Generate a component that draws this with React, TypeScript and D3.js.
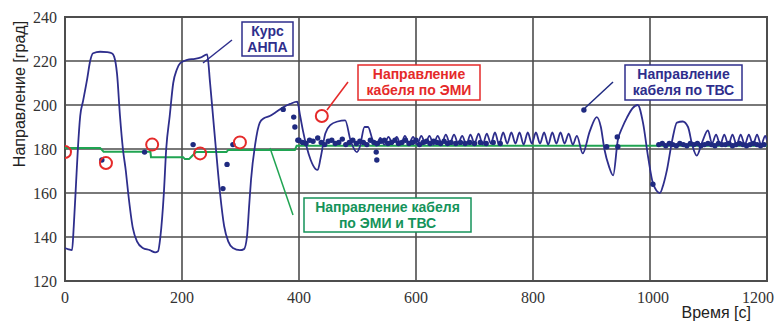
import React from 'react';
import * as d3 from 'd3';

// Курс АНПА (time s, heading deg)
const kursData: [number, number][] = [
  [0, 135], [5, 134.5], [12, 134], [15, 145], [19, 165], [22, 180], [26, 195], [31, 202], [38, 212],
  [43, 220], [48, 223.5], [60, 224.2], [72, 224], [80, 223.5], [84, 222], [89, 214], [94, 195],
  [99, 180], [104, 170], [108, 160], [116, 144], [123, 138], [133, 135], [145, 134], [154, 133],
  [159, 133.5], [163, 140], [169, 160], [173, 180], [179, 195], [185, 210], [191, 216], [197, 219],
  [209, 220.5], [222, 221], [231, 221.5], [243, 223], [248, 210], [253, 195], [258, 180], [265, 160],
  [272, 145], [279, 138], [287, 135], [299, 134], [306, 134.5], [311, 140], [315, 155], [318, 166],
  [325, 182], [333, 192], [340, 194], [350, 195], [362, 197], [373, 199], [385, 200.5], [397, 201.5],
  [402, 195], [407, 188], [413, 181], [420, 175], [428, 171], [432, 170.5], [437, 176], [445, 187],
  [454, 191], [466, 192.5], [479, 193], [488, 184], [499, 178.6], [504, 181], [512, 190], [518, 190],
  [526, 184], [532, 181.5], [539, 185], [546, 182], [553, 185.5], [560, 182.5], [567, 185.5], [574, 182],
  [581, 186], [588, 182.5], [595, 185.5], [602, 182], [609, 186], [616, 182.5], [623, 186],
  [630, 182], [637, 186], [644, 182.5], [651, 186.5], [658, 182.5], [665, 186.5], [672, 182.5],
  [679, 186], [686, 182], [693, 186.5], [700, 182.5], [707, 187], [714, 182], [721, 187], [728, 182.5],
  [735, 187.5], [742, 182], [749, 187.5], [756, 182.5], [763, 187.5], [770, 182.5], [777, 187.5],
  [784, 182], [791, 187.5], [798, 182.5], [805, 187.5], [812, 182.5], [819, 187.5], [826, 182],
  [833, 187.5], [840, 182.5], [847, 187.5], [854, 182.5], [861, 187], [868, 182], [875, 186],
  [885, 178], [897, 188], [909, 194.5], [916, 190], [922, 180], [930, 172], [937, 168], [945, 184],
  [953, 190], [961, 194.5], [970, 198.5], [979, 200], [988, 192], [997, 176], [1005, 164.5],
  [1017, 160], [1023, 164], [1029, 170.5], [1038, 184], [1046, 192], [1056, 192.5], [1065, 190],
  [1072, 182], [1080, 177], [1089, 183], [1099, 188.5], [1106, 182.5], [1113, 186.5], [1120, 182],
  [1127, 186.5], [1134, 182], [1141, 186.5], [1148, 182], [1155, 186.5], [1162, 182], [1169, 186.5],
  [1176, 182], [1183, 186.5], [1190, 182], [1197, 186], [1200, 184],
];

// Направление кабеля по ЭМИ и ТВС
const combinedData: [number, number][] = [
  [0, 180.5], [60, 180.5], [66, 178.8], [146, 178.8], [147, 176.3], [202, 176.3], [205, 175.4],
  [212, 175.4], [216, 176.5], [224, 178.6], [276, 178.6], [279, 179.6], [393, 179.6], [396, 181.5],
  [1200, 181.5],
];

// Направление кабеля по ЭМИ
const emiData: [number, number][] = [
  [0, 178.6], [70, 173.6], [149, 182], [231, 178], [299, 183], [439, 195],
];

// Направление кабеля по ТВС — isolated fixes
const tvsSingle: [number, number][] = [
  [63, 175], [136, 178.6], [219, 182], [270, 162], [277, 173], [287, 182], [373, 198], [391, 194.5],
  [393, 190], [398, 184], [532, 178.6], [533, 175], [887, 197.7], [926, 181], [944, 185.5],
  [945, 181], [1005, 164],
];

// Направление кабеля по ТВС — dense runs
const tvsBandA: [number, number][] = [
  [400, 184], [406, 183], [412, 182.5], [418, 184], [424, 183.5], [432, 185], [438, 183], [444, 182],
  [450, 183.5], [456, 184], [462, 182.5], [468, 183], [474, 184.5], [480, 182], [486, 183], [492, 184],
  [498, 182.5], [504, 183.5], [510, 183], [516, 182], [522, 184], [528, 183], [534, 182.5], [540, 183.5],
  [546, 184], [552, 182.5], [558, 183], [564, 184], [570, 182.5], [576, 183], [582, 184], [588, 182.5],
  [594, 183], [600, 184], [606, 182], [612, 183], [618, 183.5], [624, 182.5], [630, 183.5], [636, 183],
  [642, 182.5], [648, 183.5], [654, 182.5], [660, 183], [668, 182.5], [676, 183], [684, 182.5],
  [692, 183], [700, 182.5], [710, 183], [720, 182.5], [732, 183], [744, 182.5],
];
const tvsBandB: [number, number][] = [
  [1015, 182], [1021, 182.5], [1027, 181.5], [1033, 182.5], [1039, 182], [1045, 181.5], [1051, 182.5],
  [1057, 182], [1063, 181.5], [1069, 182.5], [1075, 182], [1081, 182.5], [1087, 181.5], [1093, 182],
  [1099, 182.5], [1105, 182], [1111, 181.5], [1117, 182.5], [1123, 182], [1129, 182], [1135, 182.5],
  [1141, 181.5], [1147, 182], [1153, 182.5], [1159, 182], [1165, 181.5], [1171, 182], [1177, 182.5],
  [1183, 182], [1189, 181.5], [1195, 182],
];

const xTicks = [0, 200, 400, 600, 800, 1000, 1200];
const yTicks = [120, 140, 160, 180, 200, 220, 240];

const BLUE = '#2e2e8c';
const DOT = '#1f2a80';
const RED = '#e52a2a';
const GREEN = '#20a452';
const GREEN_TEXT = '#14935a';
const GRID = '#4d4d4d';

const W = 779;
const H = 322;
const left = 65;
const right = 767;
const top = 17;
const bottom = 281;

const App = () => {
  const x = d3.scaleLinear().domain([0, 1200]).range([left, right]);
  const y = d3.scaleLinear().domain([120, 240]).range([bottom, top]);
  const line = d3.line<[number, number]>().x(d => x(d[0])).y(d => y(d[1]));
  const smooth = d3.line<[number, number]>().x(d => x(d[0])).y(d => y(d[1])).curve(d3.curveMonotoneX);

  const sans = '"Liberation Sans", Arial, sans-serif';
  const serif = '"Liberation Serif", "Times New Roman", serif';

  const label = (
    bx: number, by: number, bw: number, bh: number, lines: string[], color: string,
    base: number, gap: number
  ) => (
    <g>
      <rect x={bx} y={by} width={bw} height={bh} fill="#fff" stroke={color} strokeWidth={1.5} />
      {lines.map((t, i) => (
        <text key={i} x={bx + bw / 2} y={base + i * gap} textAnchor="middle" fill={color}
          fontFamily={sans} fontWeight="bold" fontSize={14}>{t}</text>
      ))}
    </g>
  );

  return (
    <svg width={W} height={H} style={{ position: 'absolute', left: 0, top: 0, background: '#fff' }}>
      <defs>
        <clipPath id="plot">
          <rect x={left} y={top} width={right - left} height={bottom - top} />
        </clipPath>
      </defs>

      {/* grid */}
      {xTicks.map(t => (
        <line key={'gx' + t} x1={x(t)} x2={x(t)} y1={top} y2={bottom} stroke={GRID} strokeWidth={1.6} />
      ))}
      {yTicks.map(t => (
        <line key={'gy' + t} x1={left} x2={right} y1={y(t)} y2={y(t)} stroke={GRID} strokeWidth={1.6} />
      ))}
      <rect x={left} y={top} width={right - left} height={bottom - top} fill="none" stroke={GRID} strokeWidth={2} />

      {/* tick labels */}
      {yTicks.map(t => (
        <text key={'ty' + t} x={57} y={y(t)} dy="0.35em" textAnchor="end" fontFamily={serif}
          fontSize={16} fill="#333">{t}</text>
      ))}
      {xTicks.map(t => (
        <text key={'tx' + t} x={t === 1200 ? 774 : x(t) + (t === 1000 ? 3 : 0)} y={303}
          textAnchor={t === 1200 ? 'end' : 'middle'} fontFamily={serif}
          fontSize={16} fill="#333">{t}</text>
      ))}

      <text transform="translate(25,94) rotate(-90)" textAnchor="middle" fontFamily={sans}
        fontSize={16} fill="#222">Направление [град]</text>
      <text x={751} y={318} textAnchor="end" fontFamily={sans} fontSize={16} fill="#222">Время [c]</text>

      <g clipPath="url(#plot)">
        <path d={line(combinedData) ?? ''} fill="none" stroke={GREEN} strokeWidth={2} />
        <path d={smooth(kursData) ?? ''} fill="none" stroke={BLUE} strokeWidth={1.8} strokeLinejoin="round" />
        {[...tvsBandA, ...tvsBandB, ...tvsSingle].map((d, i) => (
          <circle key={'d' + i} cx={x(d[0])} cy={y(d[1])} r={2.7} fill={DOT} />
        ))}
        {emiData.map((d, i) => (
          <circle key={'e' + i} cx={x(d[0])} cy={y(d[1])} r={6} fill="none" stroke={RED} strokeWidth={2} />
        ))}
      </g>

      {/* callouts */}
      <line x1={232} y1={40} x2={203} y2={63} stroke={BLUE} strokeWidth={1.5} />
      {label(242, 22, 51, 34, ['Курс', 'АНПА'], BLUE, 36, 15.5)}

      <line x1={348} y1={82} x2={327} y2={110} stroke={RED} strokeWidth={1.5} />
      {label(358, 65, 122, 35, ['Направление', 'кабеля по ЭМИ'], RED, 79, 15.5)}

      <line x1={613} y1={82} x2={585} y2={108} stroke={DOT} strokeWidth={1.5} />
      {label(625, 65, 117, 35, ['Направление', 'кабеля по ТВС'], BLUE, 79, 15.5)}

      <line x1={293} y1={215} x2={270} y2={148} stroke={GREEN} strokeWidth={1.5} />
      {label(304, 198, 167, 34, ['Направление кабеля', 'по ЭМИ и ТВС'], GREEN_TEXT, 212, 16)}
    </svg>
  );
};

export default App;
